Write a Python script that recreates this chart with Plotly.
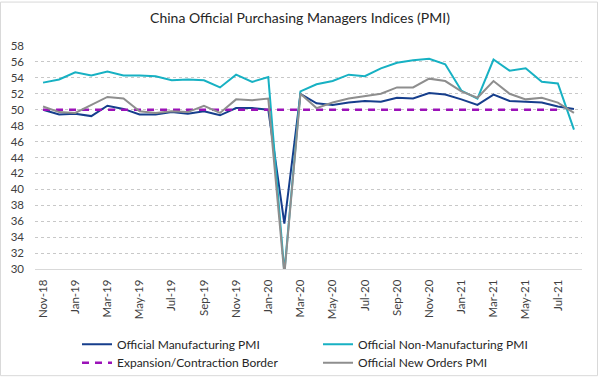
import plotly.graph_objects as go

months = ["Nov-18","Dec-18","Jan-19","Feb-19","Mar-19","Apr-19","May-19","Jun-19","Jul-19","Aug-19",
          "Sep-19","Oct-19","Nov-19","Dec-19","Jan-20","Feb-20","Mar-20","Apr-20","May-20","Jun-20",
          "Jul-20","Aug-20","Sep-20","Oct-20","Nov-20","Dec-20","Jan-21","Feb-21","Mar-21","Apr-21",
          "May-21","Jun-21","Jul-21","Aug-21"]

manufacturing = [50.0,49.4,49.5,49.2,50.5,50.1,49.4,49.4,49.7,49.5,49.8,49.3,50.2,50.2,50.0,35.7,
                 52.0,50.8,50.6,50.9,51.1,51.0,51.5,51.4,52.1,51.9,51.3,50.6,51.9,51.1,51.0,50.9,50.4,50.1]
non_manufacturing = [53.4,53.8,54.7,54.3,54.8,54.3,54.3,54.2,53.7,53.8,53.7,52.8,54.4,53.5,54.1,29.6,
                     52.3,53.2,53.6,54.4,54.2,55.2,55.9,56.2,56.4,55.7,52.4,51.4,56.3,54.9,55.2,53.5,53.3,47.5]
border = [50.0] * 33
new_orders = [50.4,49.7,49.6,50.6,51.6,51.4,49.8,49.6,49.8,49.7,50.5,49.6,51.3,51.2,51.4,29.3,
              52.0,50.2,50.9,51.4,51.7,52.0,52.8,52.8,53.9,53.6,52.3,51.5,53.6,52.0,51.3,51.5,50.9,49.6]

tick_labels = months[::2]

FONT = "Lato, Open Sans, sans-serif"
W, H = 600, 389
ML, MR, MT, MB = 35, 18, 46, 112
PW, PH = W - ML - MR, H - MT - MB

def py(px):
    return (H - MB - px) / PH

def pxx(px):
    return (px - ML) / PW

fig = go.Figure()
fig.add_trace(go.Scatter(x=months, y=manufacturing, mode="lines", name="Official Manufacturing PMI",
                         line=dict(color="#163E8C", width=2), legend="legend"))
fig.add_trace(go.Scatter(x=months, y=non_manufacturing, mode="lines", name="Official Non-Manufacturing PMI",
                         line=dict(color="#17B1C3", width=2), legend="legend2"))
fig.add_trace(go.Scatter(x=months[:len(border)], y=border, mode="lines", name="Expansion/Contraction Border",
                         line=dict(color="#9B12B8", width=2.5, dash="7px,6px"), legend="legend3"))
fig.add_trace(go.Scatter(x=months, y=new_orders, mode="lines", name="Official New Orders PMI",
                         line=dict(color="#8E8E8E", width=2), legend="legend4"))

leg_common = dict(orientation="h", xanchor="left", yanchor="middle",
                  font=dict(size=12, color="#262626", family=FONT),
                  bgcolor="rgba(0,0,0,0)", itemwidth=30)

C1, C2 = 77, 318
R1, R2 = 355, 374

fig.update_layout(
    width=W, height=H,
    margin=dict(l=ML, r=MR, t=MT, b=MB),
    paper_bgcolor="white", plot_bgcolor="white",
    font=dict(family=FONT, color="#404040", size=11),
    title=dict(text="China Official Purchasing Managers Indices (PMI)", x=0.5, xanchor="center",
               y=1 - 18 / H, yanchor="middle", font=dict(size=14, color="#262626", family=FONT)),
    showlegend=True,
    legend=dict(x=pxx(C1), y=py(R1), **leg_common),
    legend2=dict(x=pxx(C2), y=py(R1), **leg_common),
    legend3=dict(x=pxx(C1), y=py(R2), **leg_common),
    legend4=dict(x=pxx(C2), y=py(R2), **leg_common),
    shapes=[dict(type="rect", xref="paper", yref="paper",
                 x0=-(ML - 0.5) / PW, x1=1 + (MR - 2.5) / PW, y0=-(MB - 1.5) / PH, y1=1 + (MT - 0.5) / PH,
                 line=dict(color="#D9D9D9", width=1), fillcolor="rgba(0,0,0,0)", layer="below")],
)
fig.update_xaxes(type="category", categoryorder="array", categoryarray=months,
                 range=[-0.5, len(months) - 0.5],
                 tickmode="array", tickvals=tick_labels, ticktext=tick_labels,
                 tickangle=-90, showgrid=False, showline=True, linecolor="#D9D9D9", linewidth=1,
                 ticks="", ticklabelstandoff=5,
                 tickfont=dict(size=11.5, color="#404040", family=FONT))
fig.update_yaxes(range=[30, 58], dtick=2, tick0=30, showgrid=True, gridcolor="#C8C8C8", griddash="dot",
                 gridwidth=1, zeroline=False, showline=False, ticks="", ticklabelstandoff=10,
                 tickfont=dict(size=11.5, color="#404040"))

fig.write_html("out.html", config={"displayModeBar": False},
               post_script="document.body.style.margin='0';")
